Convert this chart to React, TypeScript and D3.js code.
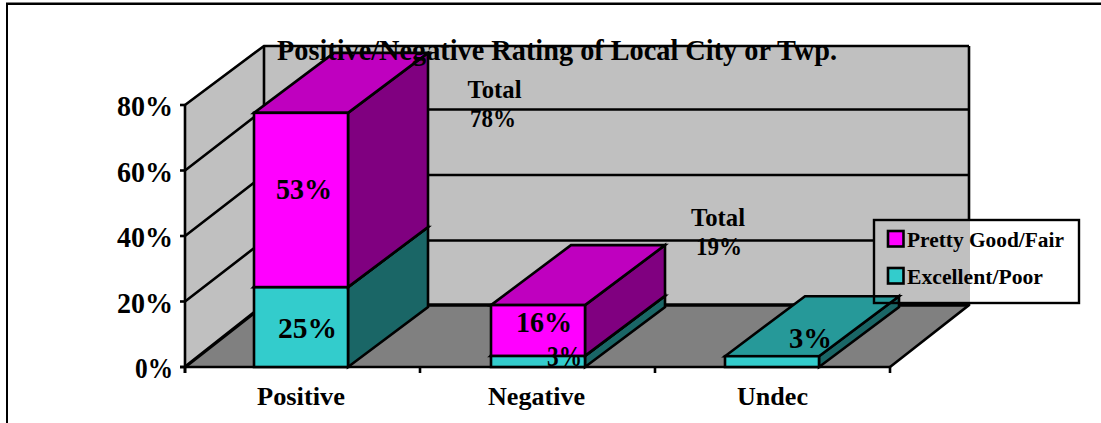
import React from "react";
import * as d3 from "d3";

const categories = ["Positive", "Negative", "Undec"];
const excellentPoor = [24.4, 3.4, 3.3];
const prettyGoodFair = [53.2, 15.5, 0];
const yTicks = [0, 20, 40, 60, 80];
const legendItems = ["Pretty Good/Fair", "Excellent/Poor"];
const title = "Positive/Negative Rating of Local City or Twp.";

const W = 1101, H = 423;
const SERIF = "'Liberation Serif', serif";
const y = d3.scaleLinear().domain([0, 80]).range([367, 105]);
const DX = 80, DY = 60;
const pts = (p: number[][]) => p.map((q) => q.join(",")).join(" ");

const C = { wall: "#c0c0c0", floor: "#808080", mag: "#ff00ff", magTop: "#bf00bf", magSide: "#800080", teal: "#33cccc", tealTop: "#269999", tealSide: "#1a6666" };
const line = { stroke: "#000", strokeWidth: 2.6 };

function Box({ x0, x1, y0, y1, front, top, side }: any) {
  return (
    <g {...line} strokeLinejoin="miter">
      <polygon fill={side} points={pts([[x1, y0], [x1 + DX, y0 - DY], [x1 + DX, y1 - DY], [x1, y1]])} />
      <polygon fill={top} points={pts([[x0, y1], [x0 + DX, y1 - DY], [x1 + DX, y1 - DY], [x1, y1]])} />
      <rect fill={front} x={x0} y={y1} width={x1 - x0} height={y0 - y1} />
    </g>
  );
}

function T({ x, y, w, s, children }: any) {
  return (
    <text x={x} y={y} fontSize={s} fontFamily={SERIF} fontWeight={700} fill="#000" textLength={w} lengthAdjust="spacingAndGlyphs">
      {children}
    </text>
  );
}

export default function App() {
  const x0 = 185, x1 = 890, b = y(0);
  const barX = [254, 491, 725];
  const bw = 94;
  const labelX = [257, 488, 737];
  const labelW = [88, 97, 71];
  const tickW = [38, 56, 56, 56, 56];
  return (
    <svg width={W} height={H} style={{ position: "absolute", left: 0, top: 0, background: "#fff" }}>
      <path d={`M6 2.5 H${W}`} stroke="#808080" strokeWidth={1} fill="none" />
      <path d={`M6 4 H${W}`} stroke="#000" strokeWidth={2} fill="none" />
      <path d={`M7 3 V${H}`} stroke="#000" strokeWidth={2} fill="none" />
      <polygon fill={C.wall} points={pts([[x0, y(80)], [x0 + DX - 1, y(80) - DY + 1], [x0 + DX - 1, b - DY], [x0, b]])} />
      <rect fill={C.wall} x={x0 + DX - 1} y={y(80) - DY + 1} width={x1 - x0} height={b - y(80) - 3} />
      <polygon fill={C.floor} points={pts([[x0, b], [x0 + DX - 1, b - DY - 2], [x1 + DX - 1, b - DY - 2], [x1, b]])} />
      <g {...line} fill="none">
        {yTicks.map((t) => {
          const yb = y(t) - (t === 80 ? 59 : 61) - (t === 0 ? 1 : 0);
          return <path key={t} d={`M${x0} ${y(t)} L${x0 + DX - 1} ${yb} H${x1 + DX - 1}`} strokeWidth={t === 0 ? 3.4 : 2.6} />;
        })}
        <path d={`M${x0 + DX - 1} ${y(80) - 59} V${b - 62} M${x1 + DX - 1} ${y(80) - 59} V${b - 62} L${x1} ${b}`} />
        <path d={`M${x0} ${y(80)} V${b + 6} M${x0 - 5} ${b} H${x1}`} />
        {yTicks.map((t) => <path key={t} d={`M${x0 - 5} ${y(t)} H${x0}`} />)}
        {[0, 1, 2, 3].map((i) => {
          const tx = x0 + (i * (x1 - x0)) / 3;
          return <path key={i} d={`M${tx} ${b} V${b + 6}`} />;
        })}
      </g>
      <rect x={874} y={220} width={96} height={83} fill={C.wall} />
      <rect x={970} y={220} width={109} height={83} fill="#fff" />
      {categories.map((c, i) => {
        const X0 = barX[i], X1 = X0 + bw;
        const h1 = y(excellentPoor[i]);
        const h2 = y(excellentPoor[i] + prettyGoodFair[i]);
        return (
          <g key={c}>
            <Box x0={X0} x1={X1} y0={b} y1={h1} front={C.teal} top={C.tealTop} side={C.tealSide} />
            {prettyGoodFair[i] > 0 && <Box x0={X0} x1={X1} y0={h1} y1={h2} front={C.mag} top={C.magTop} side={C.magSide} />}
          </g>
        );
      })}
      {yTicks.map((t, i) => (
        <T key={t} x={173 - tickW[i]} y={y(t) + 11} w={tickW[i]} s={30}>{t}%</T>
      ))}
      {categories.map((c, i) => (
        <T key={c} x={labelX[i]} y={405} w={labelW[i]} s={26}>{c}</T>
      ))}
      <T x={277} y={60} w={560} s={30}>{title}</T>
      <T x={276} y={199} w={56} s={30}>53%</T>
      <T x={278} y={338} w={59} s={30}>25%</T>
      <T x={516} y={332} w={56} s={30}>16%</T>
      <T x={547} y={366} w={35} s={30}>3%</T>
      <T x={789} y={348} w={43} s={30}>3%</T>
      <T x={467.5} y={98} w={54} s={25}>Total</T>
      <T x={470} y={127} w={46} s={25}>78%</T>
      <T x={691} y={226} w={54} s={25}>Total</T>
      <T x={696} y={255} w={46} s={25}>19%</T>
      <rect x={874} y={220} width={205} height={83} fill="none" stroke="#000" strokeWidth={2.4} />
      <rect x={888} y={231} width={15.5} height={15.5} fill={C.mag} stroke="#000" strokeWidth={2.6} />
      <rect x={888} y={268} width={15.5} height={15.5} fill={C.teal} stroke="#000" strokeWidth={2.6} />
      {legendItems.map((l, i) => (
        <T key={l} x={907} y={247 + i * 37} w={[157, 136][i]} s={20}>{l}</T>
      ))}
    </svg>
  );
}
